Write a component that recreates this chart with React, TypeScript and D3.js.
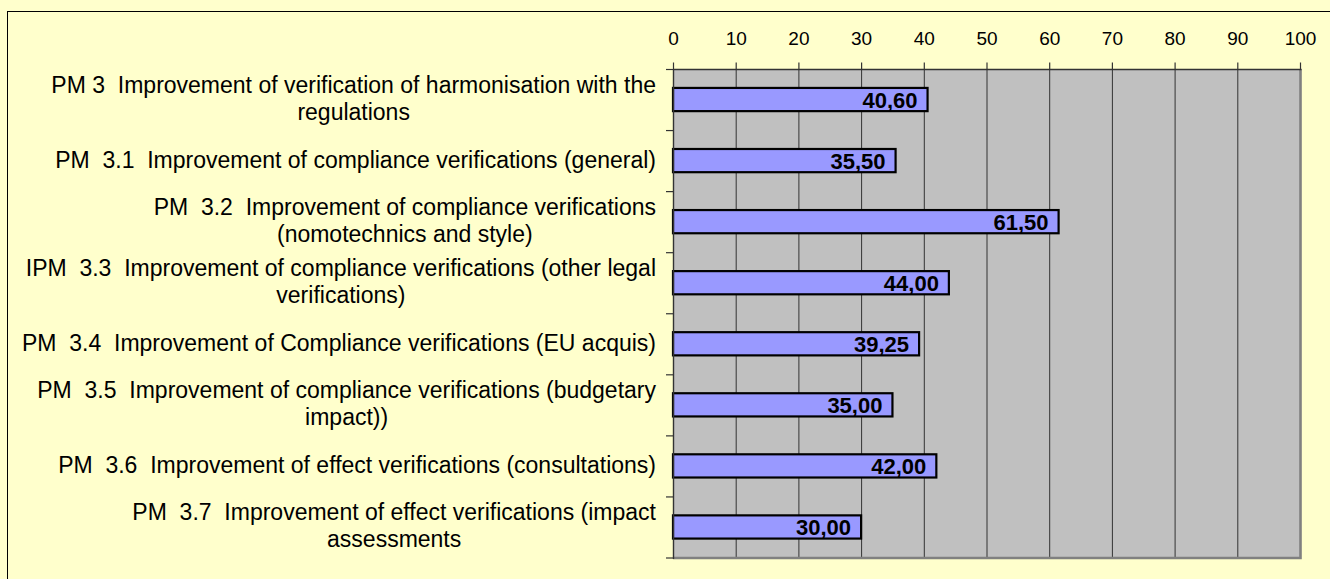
import * as d3 from "d3";
import React from "react";

// category labels, one entry per line
const categoryLines: string[][] = [
    ["PM 3  Improvement of verification of harmonisation with the", "regulations"],
    ["PM  3.1  Improvement of compliance verifications (general)"],
    ["PM  3.2  Improvement of compliance verifications", "(nomotechnics and style)"],
    ["IPM  3.3  Improvement of compliance verifications (other legal", "verifications)"],
    ["PM  3.4  Improvement of Compliance verifications (EU acquis)"],
    ["PM  3.5  Improvement of compliance verifications (budgetary", "impact))"],
    ["PM  3.6  Improvement of effect verifications (consultations)"],
    ["PM  3.7  Improvement of effect verifications (impact", "assessments"],
];
const values: number[] = [40.6, 35.5, 61.5, 44.0, 39.25, 35.0, 42.0, 30.0];
const xTicks: number[] = [0, 10, 20, 30, 40, 50, 60, 70, 80, 90, 100];

const FONT = "'Liberation Sans', Arial, sans-serif";

class BarChart extends React.PureComponent<any, any> {
    svgRef: any;

    constructor(props: any) {
        super(props)
        this.svgRef = React.createRef()
    }

    componentDidMount() {
        this.draw()
    }

    draw() {
        const svg = d3.select(this.svgRef.current);
        svg.selectAll("*").remove();

        const width = 1330;
        const height = 579;
        const left = 673, right = 1300, top = 69, bottom = 557.5;

        const xScale = d3.scaleLinear().domain([0, 100]).range([left, right]);
        const yScale = d3.scaleBand<number>()
            .domain(d3.range(categoryLines.length))
            .range([top, bottom]);
        const step = yScale.step();
        const barH = step * 0.38;

        // background and frame
        svg.append("rect")
            .attr("x", 0).attr("y", 0).attr("width", width).attr("height", height)
            .attr("fill", "#ffffcc");
        svg.append("rect")
            .attr("x", 7.5).attr("y", 11.5).attr("width", width + 20).attr("height", height + 20)
            .attr("fill", "none").attr("stroke", "#000").attr("stroke-width", 1);

        // plot area
        svg.append("rect")
            .attr("x", left).attr("y", top)
            .attr("width", right - left).attr("height", bottom - top)
            .attr("fill", "#c0c0c0");

        svg.append("g")
            .selectAll("line")
            .data(xTicks.slice(1, -1))
            .enter()
            .append("line")
            .attr("x1", d => xScale(d) + 0.5).attr("x2", d => xScale(d) + 0.5)
            .attr("y1", top).attr("y2", bottom)
            .attr("stroke", "#333").attr("stroke-width", 1);

        // bars
        svg.append("g")
            .selectAll("rect")
            .data(values)
            .enter()
            .append("rect")
            .attr("x", xScale(0))
            .attr("y", (d, i) => (yScale(i) as number) + step / 2 - barH / 2)
            .attr("width", d => xScale(d) - xScale(0))
            .attr("height", barH)
            .attr("fill", "#9999ff")
            .attr("stroke", "#000")
            .attr("stroke-width", 2.2);

        svg.append("g")
            .selectAll("text")
            .data(values)
            .enter()
            .append("text")
            .attr("x", d => xScale(d) - 10)
            .attr("y", (d, i) => (yScale(i) as number) + step / 2 + 8)
            .attr("text-anchor", "end")
            .style("font", `bold 22px ${FONT}`)
            .attr("fill", "#000")
            .text(d => d3.format(".2f")(d).replace(".", ","));

        // plot border (right / bottom shadow)
        svg.append("path")
            .attr("d", `M${right + 0.5},${top} V${bottom + 0.5} H${left}`)
            .attr("fill", "none").attr("stroke", "#808080").attr("stroke-width", 2.6);

        // x axis on top
        svg.append("line")
            .attr("x1", left).attr("x2", right + 1.5).attr("y1", top + 0.5).attr("y2", top + 0.5)
            .attr("stroke", "#333").attr("stroke-width", 1.4);
        svg.append("g")
            .selectAll("line")
            .data(xTicks)
            .enter()
            .append("line")
            .attr("x1", d => xScale(d) + 0.5).attr("x2", d => xScale(d) + 0.5)
            .attr("y1", top - 6.5).attr("y2", top)
            .attr("stroke", "#333").attr("stroke-width", 1.2);
        svg.append("g")
            .selectAll("text")
            .data(xTicks)
            .enter()
            .append("text")
            .attr("x", d => xScale(d) + 0.5)
            .attr("y", 45)
            .attr("text-anchor", "middle")
            .style("font", `19px ${FONT}`)
            .attr("fill", "#000")
            .text(d => d);

        // y axis on left
        svg.append("line")
            .attr("x1", left + 0.5).attr("x2", left + 0.5).attr("y1", top).attr("y2", bottom + 1.5)
            .attr("stroke", "#333").attr("stroke-width", 1.4);
        svg.append("g")
            .selectAll("line")
            .data(d3.range(categoryLines.length + 1))
            .enter()
            .append("line")
            .attr("x1", left - 7).attr("x2", left)
            .attr("y1", d => top + d * step + 0.5).attr("y2", d => top + d * step + 0.5)
            .attr("stroke", "#333").attr("stroke-width", 1.2);

        // category labels, lines centred in a right-aligned block
        const labelRight = 656;
        const lineGap = 26.5;
        categoryLines.forEach((lines, i) => {
            const cy = (yScale(i) as number) + step / 2;
            const text = svg.append("text")
                .attr("text-anchor", "middle")
                .style("font", `23px ${FONT}`)
                .style("white-space", "pre")
                .attr("fill", "#000");
            const firstBase = lines.length > 1 ? cy - 6.5 : cy + 7.5;
            const spans = lines.map((line, j) =>
                text.append("tspan")
                    .attr("y", firstBase + j * lineGap)
                    .text(line)
            );
            const maxW = d3.max(spans, s => (s.node() as SVGTSpanElement).getComputedTextLength()) || 0;
            spans.forEach(s => s.attr("x", labelRight - maxW / 2));
        });
    }

    render() {
        return (
            <div>
                <style>{"body{margin:0}"}</style>
                <svg ref={this.svgRef} width={1330} height={579} style={{ display: "block" }}></svg>
            </div>
        )
    }
}

export default function App() {
    return <BarChart />
}
